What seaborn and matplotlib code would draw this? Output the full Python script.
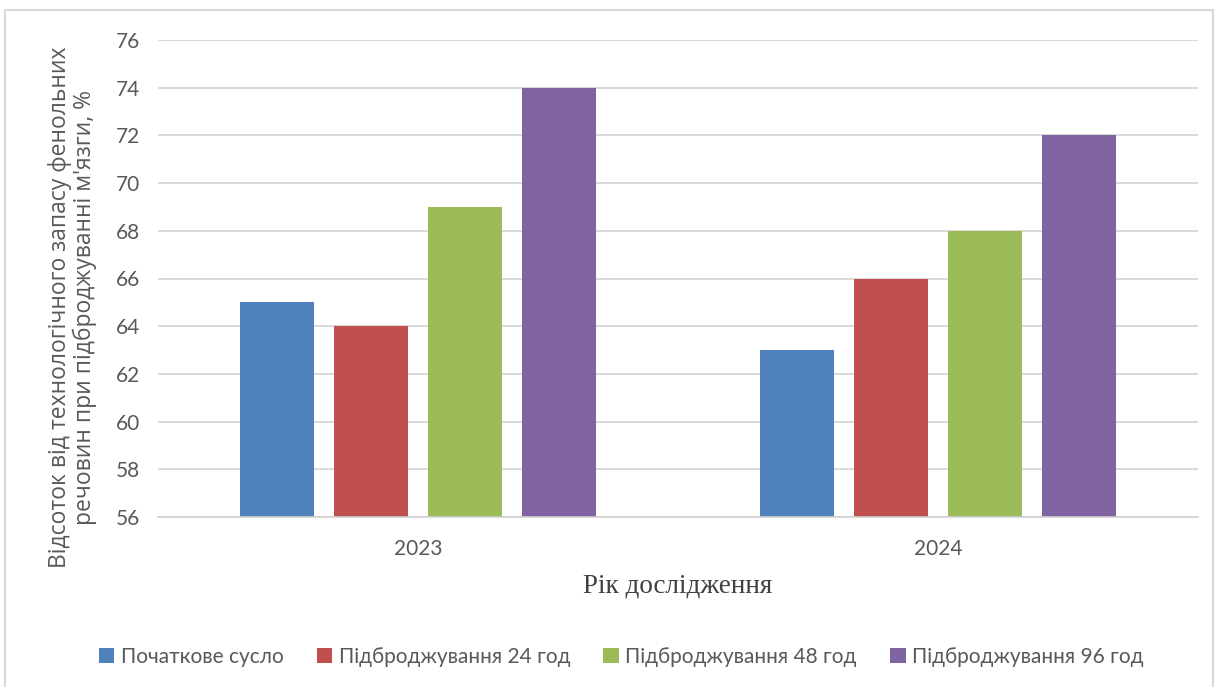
import matplotlib
matplotlib.use("Agg")
import matplotlib.pyplot as plt
from matplotlib.patches import Rectangle, Patch
import seaborn as sns
import pandas as pd

# Data
years = ["2023", "2024"]
series = ["Початкове сусло", "Підброджування 24 год",
          "Підброджування 48 год", "Підброджування 96 год"]
values_2023 = [65, 64, 69, 74]
values_2024 = [63, 66, 68, 72]
y_ticks = [56, 58, 60, 62, 64, 66, 68, 70, 72, 74, 76]

colors = ["#4F81BD", "#C0504D", "#9BBB59", "#8064A2"]

rows = []
for yr, vals in zip(years, [values_2023, values_2024]):
    for s, v in zip(series, vals):
        rows.append({"Рік": yr, "Серія": s, "Значення": v})
df = pd.DataFrame(rows)

sns.set_theme(style="white")
plt.rcParams["font.family"] = ["Lato", "DejaVu Sans"]

fig = plt.figure(figsize=(12.15, 6.87), dpi=100)
ax = fig.add_axes([158 / 1215, 1 - 517 / 687, (1198 - 158) / 1215, (517 - 40) / 687])

sns.barplot(data=df, x="Рік", y="Значення", hue="Серія", order=years,
            hue_order=series, palette=colors, width=0.723, gap=0.21,
            saturation=1, linewidth=0, ax=ax, legend=False)

ax.set_xlim(-0.5, 1.5)
ax.set_ylim(56, 76)
ax.set_yticks(y_ticks)
ax.set_yticklabels([str(t) for t in y_ticks])
ax.yaxis.grid(True, color="#d9d9d9", linewidth=1.4)
ax.set_axisbelow(True)

for side in ["left", "right", "top"]:
    ax.spines[side].set_visible(False)
ax.spines["bottom"].set_color("#d0d0d0")
ax.spines["bottom"].set_linewidth(1.2)

ax.set_xticks([0, 1])
ax.set_xticklabels(years)
ax.set_xticks([-0.5, 0.5, 1.5], minor=True)
ax.tick_params(axis="x", which="major", length=0, pad=16, labelsize=15, labelcolor="#595959")
ax.tick_params(axis="x", which="minor", length=6, width=1.2, color="#d0d0d0")
ax.tick_params(axis="y", length=0, pad=13, labelsize=15, labelcolor="#595959")

ax.set_xlabel("Рік дослідження", family=["Liberation Serif"], fontsize=19.5,
              color="#404040", labelpad=10)
ax.set_ylabel("Відсоток від технологічного запасу фенольних\n"
              "речовин при підброджуванні м'язги, %",
              family=["Open Sans", "DejaVu Sans"], fontsize=16.5, color="#595959",
              linespacing=1.0)
ax.yaxis.set_label_coords(-0.059, 0.44)

handles = [Patch(facecolor=c, edgecolor="none") for c in colors]
fig.legend(handles, series, loc="center", bbox_to_anchor=(621 / 1215, 1 - 657 / 687),
           ncol=4, frameon=False, fontsize=15.0, labelcolor="#595959",
           handlelength=0.75, handleheight=0.75, handletextpad=0.3, columnspacing=1.6)

# Light outer frame
fig.patches.append(Rectangle((5 / 1215, -0.01), (1213 - 5) / 1215, (687 - 10) / 687 + 0.01,
                             transform=fig.transFigure, fill=False,
                             edgecolor="#d9d9d9", linewidth=1.5))

fig.savefig("out.png", dpi=100, facecolor="white")
